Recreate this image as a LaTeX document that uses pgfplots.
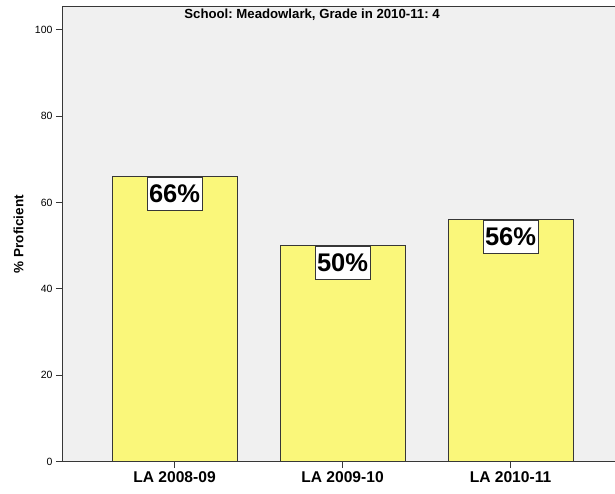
\documentclass[border=0pt]{standalone}
\usepackage{fontspec}
\setmainfont{Liberation Sans}
\usepackage{pgfplots}
\pgfplotsset{compat=1.18}
\definecolor{barfill}{RGB}{250,247,122}
\definecolor{edge}{RGB}{55,55,55}
\definecolor{panel}{RGB}{240,240,240}
\frenchspacing

\begin{document}
\begin{tikzpicture}
\begin{axis}[
  scale only axis, width=552.5bp, height=455.2bp,
  xmin=-0.667, xmax=2.622, ymin=0, ymax=105.4,
  axis lines=left, axis line style={-, draw=edge, line width=1.5bp},
  axis background/.style={fill=panel},
  xtick={0,1,2}, xticklabels={LA 2008-09, LA 2009-10, LA 2010-11},
  ytick={0,20,...,100},
  tick align=outside, major tick length=6.5bp,
  tick style={draw=edge, line width=1.1bp},
  x tick label style={font=\fontsize{15.6bp}{18bp}\selectfont\bfseries},
  y tick label style={font=\fontsize{10.5bp}{12bp}\selectfont},
  /pgf/number format/assume math mode=true,
  ylabel={\% Proficient},
  ylabel style={at={([xshift=-44bp]rel axis cs:0,0.5)}, anchor=center,
    font=\fontsize{13.5bp}{16bp}\selectfont\bfseries},
  title={School: Meadowlark, Grade in 2010-11: 4},
  title style={at={(rel axis cs:0.4516,1)}, anchor=base, yshift=-17.5bp,
    font=\fontsize{13.2bp}{15bp}\selectfont\bfseries},
  ybar, bar width=0.744,
  nodes near coords={\pgfmathprintnumber{\pgfplotspointmeta}\%},
  nodes near coords style={anchor=north, fill=white, draw=edge, line width=0.8bp,
    font=\fontsize{25.5bp}{30bp}\selectfont\bfseries, text=black,
    minimum width=55bp, minimum height=33bp, inner sep=0pt},
]
\addplot[fill=barfill, draw=edge, line width=1bp] coordinates {(0,66) (1,50) (2,56)};
% frame line along the top of the panel
\draw[edge, line width=1.5bp] (rel axis cs:0,1) -- (rel axis cs:1,1);
\end{axis}
\pgfresetboundingbox
\useasboundingbox ([xshift=-62.5bp,yshift=-32.3bp]current axis.south west)
  rectangle ([yshift=6.5bp]current axis.north east);
\end{tikzpicture}
\end{document}
